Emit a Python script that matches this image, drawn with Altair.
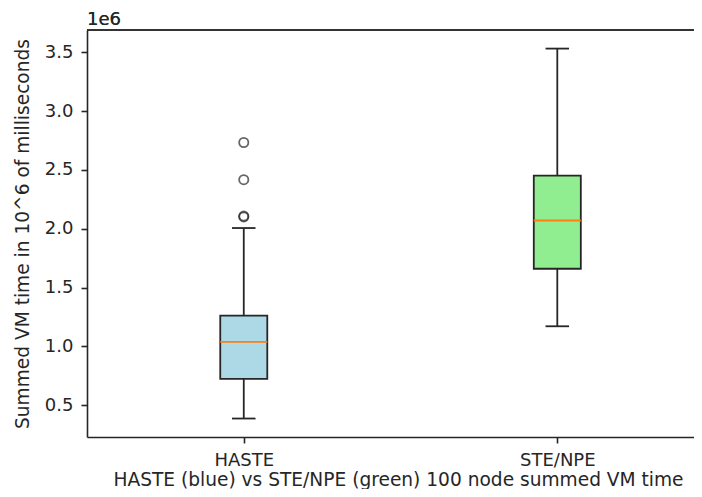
import altair as alt
import pandas as pd

# ---- data (values in units of 1e6 milliseconds) ----
groups = ["HASTE", "STE/NPE"]
positions = [1, 2]
whisker_low = [0.387, 1.171]
q1 = [0.724, 1.660]
median = [1.038, 2.070]
q3 = [1.261, 2.452]
whisker_high = [2.006, 3.531]
box_colors = ["#add8e6", "#90ee90"]

outlier_group = ["HASTE", "HASTE", "HASTE", "HASTE"]
outlier_pos = [1, 1, 1, 1]
outlier_values = [2.100, 2.108, 2.417, 2.733]

box_half = 0.075
cap_half = 0.0375

df = pd.DataFrame({
    "group": groups,
    "pos": positions,
    "lo": whisker_low,
    "q1": q1,
    "med": median,
    "q3": q3,
    "hi": whisker_high,
    "color": box_colors,
})
df["left"] = df["pos"] - box_half
df["right"] = df["pos"] + box_half
df["cleft"] = df["pos"] - cap_half
df["cright"] = df["pos"] + cap_half

out_df = pd.DataFrame({"group": outlier_group, "pos": outlier_pos, "v": outlier_values})

W = 607
xdom = [0.5, 2.436]
ydom = [0.230, 3.689]
FONT = "DejaVu Sans"
INK = "#262626"
LW = 1.8

xscale = alt.Scale(domain=xdom, nice=False, zero=False)
yscale = alt.Scale(domain=ydom, nice=False, zero=False)

x_axis = alt.Axis(
    values=[1, 2],
    labelExpr="datum.value == 1 ? 'HASTE' : 'STE/NPE'",
    title="HASTE (blue) vs STE/NPE (green) 100 node summed VM time",
    titleX=311,
    titleAlign="center",
    grid=False,
)
y_axis = alt.Axis(
    values=[0.5, 1.0, 1.5, 2.0, 2.5, 3.0, 3.5],
    format=".1f",
    title="Summed VM time in 10^6 of milliseconds",
    grid=False,
)

base = alt.Chart(df)

boxes = base.mark_bar(stroke=INK, strokeWidth=LW).encode(
    x=alt.X("left:Q", scale=xscale, axis=x_axis),
    x2="right:Q",
    y=alt.Y("q1:Q", scale=yscale, axis=y_axis),
    y2="q3:Q",
    fill=alt.Fill("color:N", scale=None),
)

whisk_lo = base.mark_rule(color=INK, strokeWidth=LW).encode(
    x=alt.X("pos:Q", scale=xscale), y=alt.Y("lo:Q", scale=yscale), y2="q1:Q"
)
whisk_hi = base.mark_rule(color=INK, strokeWidth=LW).encode(
    x=alt.X("pos:Q", scale=xscale), y=alt.Y("q3:Q", scale=yscale), y2="hi:Q"
)
cap_lo = base.mark_rule(color=INK, strokeWidth=LW).encode(
    x=alt.X("cleft:Q", scale=xscale), x2="cright:Q", y=alt.Y("lo:Q", scale=yscale)
)
cap_hi = base.mark_rule(color=INK, strokeWidth=LW).encode(
    x=alt.X("cleft:Q", scale=xscale), x2="cright:Q", y=alt.Y("hi:Q", scale=yscale)
)
med = base.mark_rule(color="#ff7f0e", strokeWidth=LW).encode(
    x=alt.X("left:Q", scale=xscale), x2="right:Q", y=alt.Y("med:Q", scale=yscale)
)

outliers = alt.Chart(out_df).mark_point(
    shape="circle", filled=False, color=INK, strokeWidth=LW, size=85
).encode(x=alt.X("pos:Q", scale=xscale), y=alt.Y("v:Q", scale=yscale))

top_spine = alt.Chart(df).mark_rule(color=INK, strokeWidth=1.6).encode(
    x=alt.value(0), x2=alt.value(W), y=alt.value(0)
)

offset_label = alt.Chart(df).mark_text(
    text="1e6", align="left", baseline="alphabetic", font=FONT, fontSize=18, color=INK
).encode(x=alt.value(0), y=alt.value(-5))

chart = (
    alt.layer(boxes, whisk_lo, whisk_hi, cap_lo, cap_hi, med, outliers, top_spine, offset_label)
    .properties(
        width=W,
        height=407,
        autosize=alt.AutoSizeParams(type="none"),
        padding={"left": 79, "top": 22, "right": 0, "bottom": 52},
    )
    .configure_view(stroke=None)
    .configure_axis(
        labelFont=FONT,
        titleFont=FONT,
        labelFontSize=18,
        titleFontSize=18.6,
        titleFontWeight="normal",
        labelColor=INK,
        titleColor=INK,
        domainColor=INK,
        domainWidth=1.6,
        tickColor=INK,
        tickWidth=1.6,
        tickSize=6,
    )
    .configure_axisY(titlePadding=12, labelPadding=8)
    .configure_axisX(titlePadding=1, labelPadding=8)
)

chart.save("out.html", embed_options={"renderer": "svg", "actions": False})
